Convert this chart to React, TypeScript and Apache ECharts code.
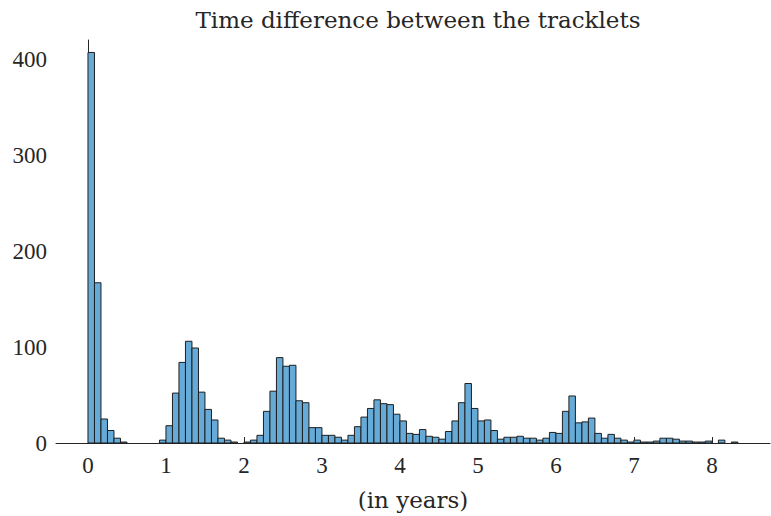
import React, { useEffect, useRef } from "react";
import * as echarts from "echarts";

const BIN_WIDTH = 1 / 12;
const counts = [
  407, 167, 25, 13, 5, 1, 0, 0, 0, 0, 0, 3, 18, 52, 84, 106, 99, 53, 35, 24,
  5, 3, 1, 0, 1, 3, 8, 33, 54, 89, 80, 81, 44, 42, 16, 16, 8, 8, 6, 3,
  8, 17, 27, 36, 45, 41, 40, 30, 23, 10, 9, 14, 7, 6, 4, 12, 23, 42, 62, 36,
  23, 24, 13, 4, 6, 6, 7, 5, 5, 3, 5, 11, 10, 33, 49, 21, 22, 26, 10, 5,
  9, 5, 3, 1, 3, 1, 1, 2, 5, 5, 4, 2, 2, 1, 1, 2, 0, 3, 0, 1,
];
const xTicks = [0, 1, 2, 3, 4, 5, 6, 7, 8];
const yTicks = [0, 100, 200, 300, 400];
const titleText = "Time difference between the tracklets";
const xLabel = "(in years)";

const NUM_FONT = "Liberation Serif";
const TEXT_FONT = "DejaVu Serif";
const TEXT_COLOR = "#262626";

export default function App() {
  const ref = useRef<HTMLDivElement>(null);
  useEffect(() => {
    if (!ref.current) return;
    const chart = echarts.init(ref.current, undefined, { renderer: "svg" });
    const data = counts.map((c, i) => [i * BIN_WIDTH, (i + 1) * BIN_WIDTH, c]);
    chart.setOption({
      animation: false,
      backgroundColor: "#ffffff",
      title: {
        text: titleText,
        left: 413,
        top: 3,
        textAlign: "center",
        textStyle: { fontFamily: TEXT_FONT, fontSize: 23, fontWeight: "normal", color: TEXT_COLOR },
      },
      grid: { left: 56, right: 1, top: 40, bottom: 70, containLabel: false },
      xAxis: {
        type: "value",
        min: -0.41,
        max: 8.745,
        name: xLabel,
        nameLocation: "middle",
        nameGap: 45,
        nameTextStyle: { fontFamily: TEXT_FONT, fontSize: 23, color: TEXT_COLOR },
        splitLine: { show: false },
        axisLine: { show: true, lineStyle: { color: TEXT_COLOR, width: 1 } },
        axisTick: { show: true, inside: true, length: 6, customValues: xTicks, lineStyle: { color: TEXT_COLOR } },
        axisLabel: {
          customValues: xTicks,
          fontFamily: NUM_FONT,
          fontSize: 23,
          color: TEXT_COLOR,
          margin: 11,
        },
      },
      yAxis: {
        type: "value",
        min: 0,
        max: 420,
        splitLine: { show: false },
        axisLine: { show: true, lineStyle: { color: TEXT_COLOR, width: 1 } },
        axisTick: { show: true, inside: true, length: 6, customValues: yTicks, lineStyle: { color: TEXT_COLOR } },
        axisLabel: {
          customValues: yTicks,
          fontFamily: NUM_FONT,
          fontSize: 23,
          color: TEXT_COLOR,
          margin: 9,
        },
      },
      series: [
        {
          type: "custom",
          data,
          encode: { x: [0, 1], y: 2 },
          renderItem: (params: any, api: any) => {
            const x0 = api.value(0);
            const x1 = api.value(1);
            const v = api.value(2);
            if (!v) return null;
            const p0 = api.coord([x0, v]);
            const p1 = api.coord([x1, 0]);
            return {
              type: "rect",
              shape: { x: p0[0], y: p0[1], width: p1[0] - p0[0], height: p1[1] - p0[1] },
              style: { fill: "#66AAD7", stroke: "#1f1f1f", lineWidth: 1 },
            };
          },
        },
      ],
    });
    return () => chart.dispose();
  }, []);
  return (
    <div
      ref={ref}
      style={{ position: "fixed", left: 0, top: 0, width: 771, height: 516 }}
    />
  );
}
